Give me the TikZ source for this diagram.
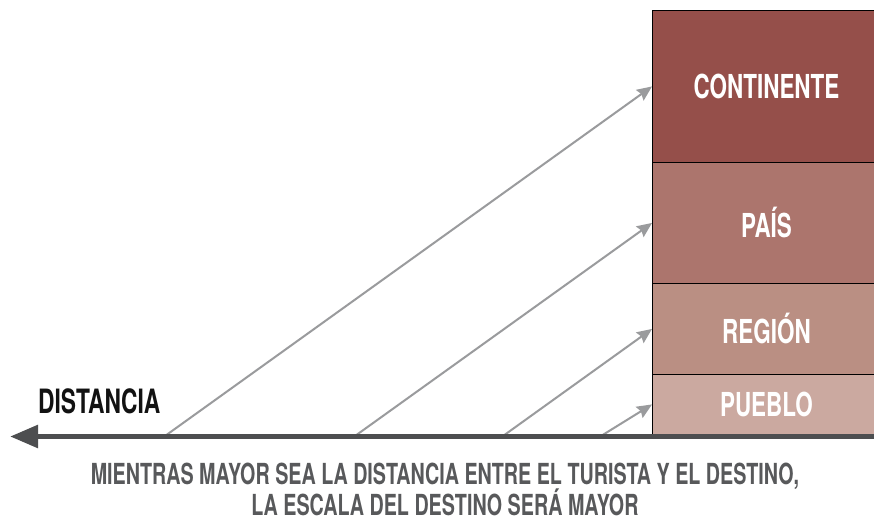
\documentclass[tikz,border=0pt]{standalone}
\usepackage{fontspec}
\setmainfont{TeX Gyre Heros}[FakeStretch=0.68]
\usetikzlibrary{arrows.meta}
\definecolor{cCont}{HTML}{954F4A}
\definecolor{cPais}{HTML}{AC756D}
\definecolor{cReg}{HTML}{BA8F83}
\definecolor{cPue}{HTML}{CBA9A0}
\definecolor{axisgray}{HTML}{4D4E50}
\definecolor{arrgray}{HTML}{9A9B9D}
\definecolor{txtgray}{HTML}{58595B}
\tikzset{
  level/.style={draw=black, line width=0.9pt, minimum width=228pt, anchor=north west,
    inner sep=0pt, text=white, font=\fontsize{33}{33}\selectfont\bfseries},
  ray/.style={draw=arrgray, line width=2pt, -{Stealth[length=15pt,width=13pt,inset=2pt]}},
}
\begin{document}
\begin{tikzpicture}[x=1pt,y=-1pt]
\useasboundingbox (0,0) rectangle (874,521);
\fill[white] (0,0) rectangle (874,521);
\node[level, fill=cCont, minimum height=152pt] (cont) at (652,10) {CONTINENTE};
\node[level, fill=cPais, minimum height=121pt] (pais) at (652,162) {PAÍS};
\node[level, fill=cReg, minimum height=91pt] (reg) at (652,283) {REGIÓN};
\node[level, fill=cPue, minimum height=60pt] (pue) at (652,374) {PUEBLO};
\coordinate (s1) at (165,436);
\coordinate (s2) at (355,436);
\coordinate (s3) at (503,436);
\coordinate (s4) at (601,436);
\coordinate (axR) at (874,436.5);
\coordinate (axL) at (10,436.5);
\draw[ray] (s1) -- (cont.west);
\draw[ray] (s2) -- (pais.west);
\draw[ray] (s3) -- (reg.west);
\draw[ray] (s4) -- (pue.west);
\draw[axisgray, line width=5.5pt, -{Triangle[length=28pt,width=22pt]}] (axR) -- (axL);
\node[anchor=base west, inner sep=0pt, text=black!93, font=\fontsize{33.5}{33.5}\selectfont\bfseries] (dist) at (38,413) {DISTANCIA};
\node[anchor=base, inner sep=0pt, text=txtgray, font=\fontsize{29}{29}\selectfont\bfseries] (cap1) at (445,484) {MIENTRAS MAYOR SEA LA DISTANCIA ENTRE EL TURISTA Y EL DESTINO,};
\node[anchor=base, inner sep=0pt, text=txtgray, font=\fontsize{29}{29}\selectfont\bfseries] (cap2) at (445,515) {LA ESCALA DEL DESTINO SERÁ MAYOR};
\end{tikzpicture}
\end{document}
